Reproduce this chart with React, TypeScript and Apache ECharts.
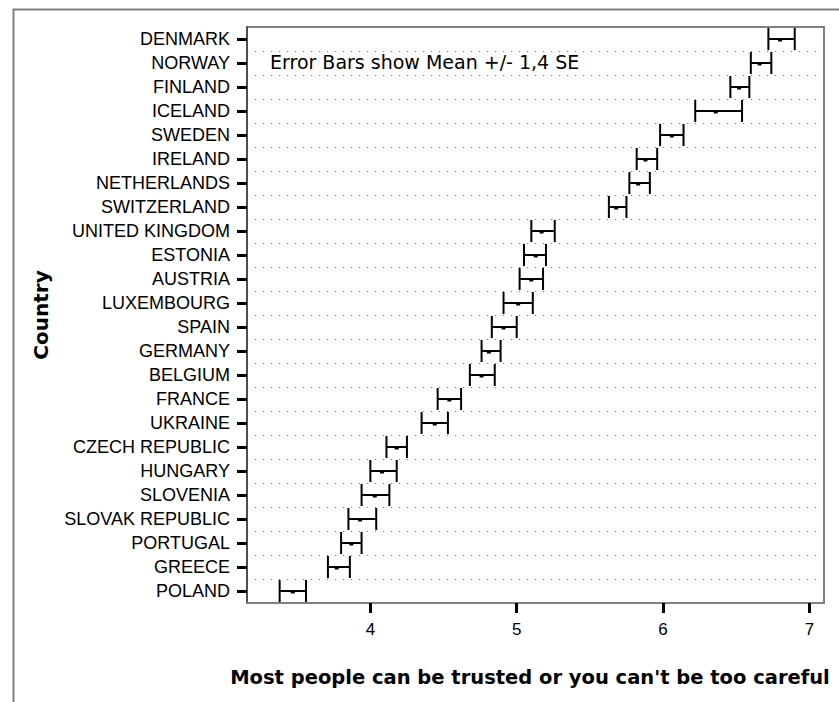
import React, { useEffect, useRef } from "react";
import * as echarts from "echarts";

const countries = [
  "DENMARK", "NORWAY", "FINLAND", "ICELAND", "SWEDEN", "IRELAND", "NETHERLANDS",
  "SWITZERLAND", "UNITED KINGDOM", "ESTONIA", "AUSTRIA", "LUXEMBOURG", "SPAIN",
  "GERMANY", "BELGIUM", "FRANCE", "UKRAINE", "CZECH REPUBLIC", "HUNGARY",
  "SLOVENIA", "SLOVAK REPUBLIC", "PORTUGAL", "GREECE", "POLAND",
];
const meanVals = [6.80, 6.66, 6.52, 6.36, 6.06, 5.88, 5.83, 5.68, 5.17, 5.13, 5.10, 5.01, 4.91, 4.81, 4.76, 4.54, 4.44, 4.18, 4.08, 4.03, 3.93, 3.87, 3.77, 3.47];
const lowVals = [6.72, 6.60, 6.46, 6.22, 5.98, 5.82, 5.77, 5.63, 5.10, 5.05, 5.02, 4.91, 4.83, 4.76, 4.68, 4.46, 4.35, 4.11, 4.00, 3.94, 3.85, 3.80, 3.71, 3.38];
const highVals = [6.90, 6.74, 6.59, 6.54, 6.14, 5.96, 5.91, 5.75, 5.26, 5.20, 5.18, 5.11, 5.00, 4.89, 4.85, 4.62, 4.53, 4.25, 4.18, 4.13, 4.04, 3.94, 3.86, 3.56];
const xTicks = [4, 5, 6, 7];
const xTitle = "Most people can be trusted or you can't be too careful";
const yTitle = "Country";
const note = "Error Bars show Mean +/- 1,4 SE";

const FONT = "'Liberation Sans', Arial, sans-serif";
const WIDE = "'DejaVu Sans', sans-serif";

export default function App() {
  const ref = useRef<HTMLDivElement>(null);
  useEffect(() => {
    if (!ref.current) return;
    const chart = echarts.init(ref.current, null, { renderer: "svg" });
    const data = countries.map((_, i) => [i, lowVals[i], highVals[i], meanVals[i]]);
    chart.setOption({
      animation: false,
      backgroundColor: "#ffffff",
      grid: {
        left: 247, top: 27, right: 15, bottom: 99,
        outerBoundsMode: "none",
        containLabel: false,
        show: true, borderColor: "#808080", borderWidth: 2, backgroundColor: "#ffffff",
      },
      graphic: [
        {
          type: "rect", left: 11, top: 7, z: -1,
          shape: { x: 0, y: 0, width: 900, height: 800 },
          style: { fill: "none", stroke: "#808080", lineWidth: 2 },
        },
        {
          type: "text", left: 270, top: 52,
          style: { text: note, fontFamily: WIDE, fontSize: 19, fill: "#000" },
        },
        {
          type: "text", x: 530, y: 677,
          style: {
            text: xTitle, fontFamily: WIDE, fontSize: 19.5, fontWeight: "bold", fill: "#000",
            align: "center", verticalAlign: "middle",
          },
        },
      ],
      xAxis: {
        type: "value",
        min: 3.157, max: 7.1,
        axisLine: { show: true, lineStyle: { color: "#808080", width: 2 } },
        axisTick: { show: true, length: 10, lineStyle: { color: "#000", width: 3 }, customValues: xTicks },
        axisLabel: { fontFamily: FONT, fontSize: 17, color: "#000", margin: 18, customValues: xTicks },
        splitLine: { show: false },
      },
      yAxis: {
        type: "category",
        inverse: true,
        data: countries,
        name: yTitle,
        nameLocation: "middle",
        nameRotate: 90,
        nameGap: 196,
        nameTextStyle: { fontFamily: WIDE, fontSize: 20, fontWeight: "bold", color: "#000" },
        axisLine: { show: true, lineStyle: { color: "#404040", width: 1.5 } },
        axisTick: { show: true, alignWithLabel: true, length: 10, lineStyle: { color: "#000", width: 3 } },
        axisLabel: { fontFamily: FONT, fontSize: 18, color: "#000", margin: 17 },
        splitLine: { show: true, lineStyle: { color: "#808080", width: 1.2, type: [1.2, 6.8] } },
      },
      series: [
        {
          type: "custom",
          data,
          encode: { x: [1, 2, 3], y: 0 },
          renderItem: (params: any, api: any) => {
            const idx = api.value(0);
            const lo = api.coord([api.value(1), idx]);
            const hi = api.coord([api.value(2), idx]);
            const m = api.coord([api.value(3), idx]);
            const h = api.size([0, 1])[1] * 0.46;
            const st = { stroke: "#000", lineWidth: 2 };
            return {
              type: "group",
              children: [
                { type: "line", shape: { x1: lo[0], y1: lo[1], x2: hi[0], y2: hi[1] }, style: st },
                { type: "line", shape: { x1: lo[0], y1: lo[1] - h, x2: lo[0], y2: lo[1] + h }, style: st },
                { type: "line", shape: { x1: hi[0], y1: hi[1] - h, x2: hi[0], y2: hi[1] + h }, style: st },
                { type: "rect", shape: { x: m[0] - 2, y: m[1], width: 4, height: 2.5 }, style: { fill: "#000" } },
              ],
            };
          },
        },
      ],
    });
    return () => chart.dispose();
  }, []);
  return (
    <div
      ref={ref}
      style={{ position: "fixed", left: 0, top: 0, width: 839, height: 702, background: "#fff" }}
    />
  );
}
